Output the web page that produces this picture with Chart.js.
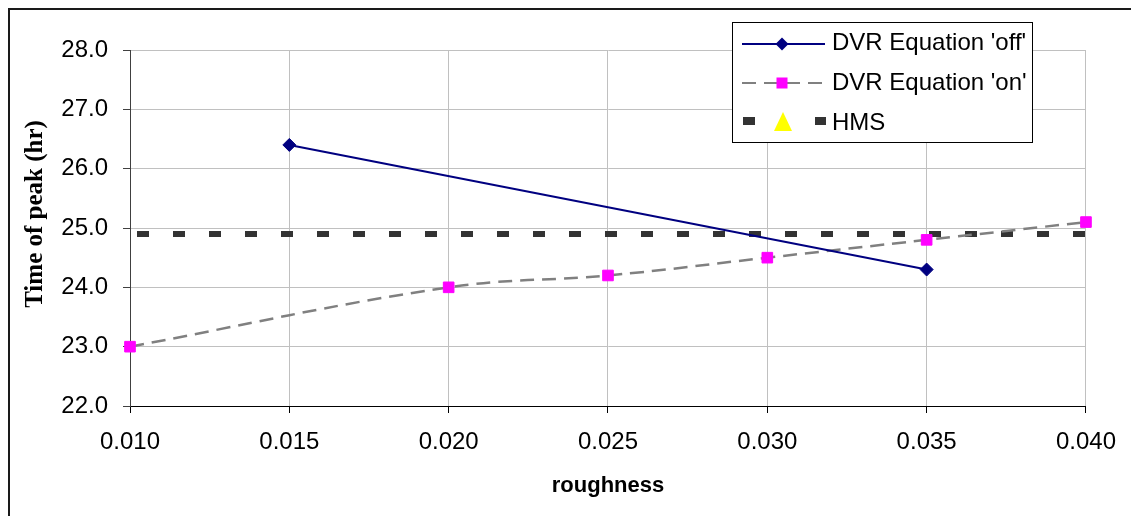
<!DOCTYPE html>
<html>
<head>
<meta charset="utf-8">
<script src="https://cdn.jsdelivr.net/npm/chart.js@4"></script>
<style>
   body { margin: 0; background: #fff; }
   .wrap { position: relative; width: 1131px; height: 516px; overflow: hidden; }
   .frame { position: absolute; left: 8px; top: 8px; width: 1200px; height: 600px; border: 2px solid #1a1a1a; pointer-events: none; }
</style>
</head>
<body>
<div class="wrap">
   <canvas id="myChart" width="1131" height="516"></canvas>
   <div class="frame"></div>
</div>
<script>
// values
let offX = [0.015, 0.035];
let offY = [26.4, 24.3];

let onX = [0.010, 0.020, 0.025, 0.030, 0.035, 0.040];
let onY = [23.0, 24.0, 24.2, 24.5, 24.8, 25.1];

let hmsX = [0.010, 0.040];
let hmsY = [24.9, 24.9];

let labels = ["DVR Equation 'off'", "DVR Equation 'on'", 'HMS'];

let xMin = 0.010, xMax = 0.040, xStep = 0.005;
let yMin = 22, yMax = 28, yStep = 1;

function points(xs, ys) {
   return xs.map((x, i) => ({ x: x, y: ys[i] }));
}

let sans = '"Liberation Sans", Arial, sans-serif';
let serif = '"Liberation Serif", "Times New Roman", serif';

// legend box + y title drawn on top, excel style
let extras = {
   id: 'extras',
   afterDraw(chart) {
      let ctx = chart.ctx;
      ctx.save();

      // y axis title
      ctx.save();
      ctx.translate(36, 214);
      ctx.rotate(-Math.PI / 2);
      ctx.font = 'bold 25px ' + serif;
      ctx.fillStyle = '#000';
      ctx.textAlign = 'center';
      ctx.textBaseline = 'middle';
      ctx.fillText('Time of peak (hr)', 0, 0);
      ctx.restore();

      // legend
      ctx.fillStyle = '#fff';
      ctx.fillRect(732, 22, 300, 120);
      ctx.strokeStyle = '#000';
      ctx.lineWidth = 1;
      ctx.strokeRect(732.5, 22.5, 300, 120);

      // row 1
      ctx.strokeStyle = '#000080';
      ctx.lineWidth = 2;
      ctx.beginPath();
      ctx.moveTo(742, 44); ctx.lineTo(825, 44);
      ctx.stroke();
      ctx.fillStyle = '#000080';
      ctx.beginPath();
      ctx.moveTo(782, 37.5); ctx.lineTo(788.5, 44); ctx.lineTo(782, 50.5); ctx.lineTo(775.5, 44);
      ctx.closePath();
      ctx.fill();

      // row 2
      ctx.strokeStyle = '#808080';
      ctx.lineWidth = 2;
      ctx.setLineDash([14, 8]);
      ctx.beginPath();
      ctx.moveTo(742, 83); ctx.lineTo(825, 83);
      ctx.stroke();
      ctx.setLineDash([]);
      ctx.fillStyle = '#ff00ff';
      ctx.fillRect(776.5, 77.5, 11, 11);

      // row 3
      ctx.fillStyle = '#333333';
      ctx.fillRect(743, 117, 12, 8);
      ctx.fillRect(815, 117, 11, 8);
      ctx.fillStyle = '#ffff00';
      ctx.beginPath();
      ctx.moveTo(783, 112); ctx.lineTo(792, 131); ctx.lineTo(774, 131);
      ctx.closePath();
      ctx.fill();

      ctx.fillStyle = '#000';
      ctx.font = '24px ' + sans;
      ctx.textAlign = 'left';
      ctx.textBaseline = 'alphabetic';
      ctx.fillText(labels[0], 832, 50);
      ctx.fillText(labels[1], 832, 90);
      ctx.fillText(labels[2], 832, 129.5);

      ctx.restore();
   }
};

var ctx = document.getElementById('myChart').getContext('2d');
var chart = new Chart(ctx, {
   type: 'line',
   data: {
      datasets: [{
         label: labels[0],
         data: points(offX, offY),
         borderColor: '#000080',
         backgroundColor: '#000080',
         borderWidth: 2,
         pointStyle: 'rectRot',
         pointRadius: 6.5,
         pointBorderWidth: 1,
         pointBorderColor: '#000080',
         pointBackgroundColor: '#000080',
         tension: 0,
         clip: false
      }, {
         label: labels[1],
         data: points(onX, onY),
         borderColor: '#808080',
         borderWidth: 2.5,
         borderDash: [14, 8],
         pointStyle: 'rect',
         pointRadius: 7.5,
         pointBorderWidth: 1,
         pointBorderColor: '#ff00ff',
         pointBackgroundColor: '#ff00ff',
         tension: 0.4,
         clip: false
      }, {
         label: labels[2],
         data: points(hmsX, hmsY),
         borderColor: '#333333',
         borderWidth: 6,
         borderDash: [12, 24],
         borderDashOffset: 29,
         borderCapStyle: 'butt',
         pointRadius: 0,
         tension: 0,
         clip: false
      }]
   },
   options: {
      responsive: false,
      animation: false,
      layout: { padding: { top: 50, right: 45, left: 0, bottom: 0 } },
      plugins: {
         legend: { display: false },
         tooltip: { enabled: false }
      },
      scales: {
         x: {
            type: 'linear',
            min: xMin,
            max: xMax,
            afterFit: s => { s.height = 110; },
            border: { color: '#000', width: 1 },
            grid: { color: '#c0c0c0', tickColor: '#000', tickLength: 7 },
            ticks: {
               stepSize: xStep,
               padding: 15,
               maxRotation: 0,
               color: '#000',
               font: { family: sans, size: 24 },
               callback: v => v.toFixed(3)
            },
            title: {
               display: true,
               text: 'roughness',
               color: '#000',
               font: { family: sans, size: 22, weight: 'bold' },
               padding: { top: 0, bottom: 17 }
            }
         },
         y: {
            min: yMin,
            max: yMax,
            afterFit: s => { s.width = 130; },
            border: { color: '#404040', width: 1 },
            grid: { color: '#c0c0c0', tickColor: '#404040', tickLength: 7 },
            ticks: {
               stepSize: yStep,
               padding: 15,
               color: '#000',
               font: { family: sans, size: 24 },
               callback: v => v.toFixed(1)
            }
         }
      }
   },
   plugins: [extras]
});
</script>
</body>
</html>
